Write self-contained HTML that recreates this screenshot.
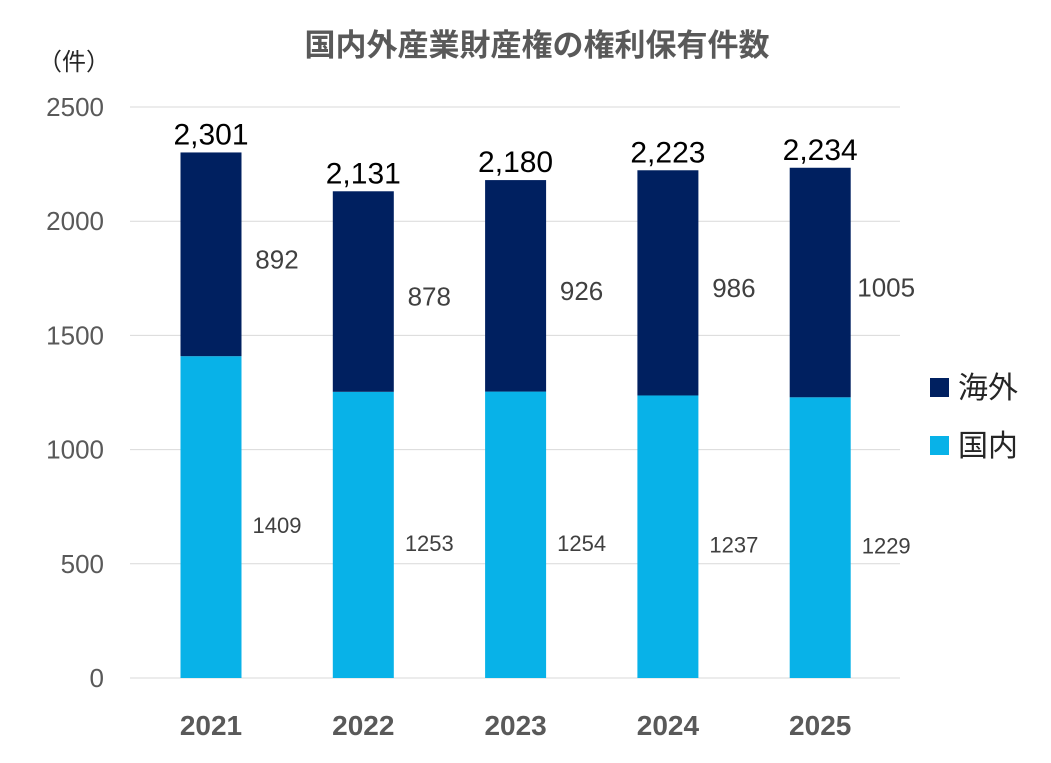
<!DOCTYPE html>
<html><head><meta charset="utf-8"><style>
body{margin:0;background:#fff;}
svg text{font-family:"Liberation Sans","Noto Sans CJK JP",sans-serif;}
</style></head><body>
<svg id="chart" width="1051" height="758" xmlns="http://www.w3.org/2000/svg">
<text x="537" y="56" text-anchor="middle" font-size="31" font-weight="bold" fill="#595959">国内外産業財産権の権利保有件数</text>
<text x="38" y="70" font-size="24" fill="#262626">（件）</text>
<g id="grid"></g><g id="bars"></g><g id="labels"></g>
<g>
<rect x="930" y="378" width="19" height="19" fill="#002060"/>
<text x="958" y="398" font-size="30" fill="#262626">海外</text>
<rect x="930" y="436" width="19" height="19" fill="#08B2E8"/>
<text x="958" y="456" font-size="30" fill="#262626">国内</text>
</g>
</svg>
<script>
const categories=["2021","2022","2023","2024","2025"];
const domestic=[1409,1253,1254,1237,1229];
const overseas=[892,878,926,986,1005];
const totals=["2,301","2,131","2,180","2,223","2,234"];
const yTicks=[0,500,1000,1500,2000,2500];
const NS="http://www.w3.org/2000/svg";
const y0=678,yTop=107,yMax=2500;
const y=v=>y0-(v/yMax)*(y0-yTop);
const xc=i=>211+i*152.3;
const bw=61;
function mk(t,a,p,txt){const e=document.createElementNS(NS,t);for(const k in a)e.setAttribute(k,a[k]);if(txt!==undefined)e.textContent=txt;p.appendChild(e);return e;}
const g=document.getElementById('grid'),b=document.getElementById('bars'),l=document.getElementById('labels');
yTicks.forEach(v=>{
const ln=mk('line',{x1:130,x2:900,y1:y(v),y2:y(v),stroke:"#d9d9d9","stroke-width":1},g);


const t=mk('text',{x:104,y:y(v)+9,"text-anchor":"end","font-size":26,fill:"#595959"},g,String(v));


});
categories.forEach((c,i)=>{
const x=xc(i)-bw/2;
const r1=mk('rect',{x:x,y:y(domestic[i]),width:bw,height:y0-y(domestic[i]),fill:"#08B2E8"},b);


const top=domestic[i]+overseas[i];
const r2=mk('rect',{x:x,y:y(top),width:bw,height:y(domestic[i])-y(top),fill:"#002060"},b);


const t1=mk('text',{x:xc(i)+66,y:y(domestic[i]/2)+16,"text-anchor":"middle","font-size":22,fill:"#404040"},l,String(domestic[i]));


const t2=mk('text',{x:xc(i)+66,y:y(domestic[i]+overseas[i]/2)+14,"text-anchor":"middle","font-size":26,fill:"#404040"},l,String(overseas[i]));


const t3=mk('text',{x:xc(i),y:y(top)-8,"text-anchor":"middle","font-size":30,fill:"#000"},l,totals[i]);


const t4=mk('text',{x:xc(i),y:735,"text-anchor":"middle","font-size":28,"font-weight":"bold",fill:"#595959"},l,c);


});
</script>
</body></html>
